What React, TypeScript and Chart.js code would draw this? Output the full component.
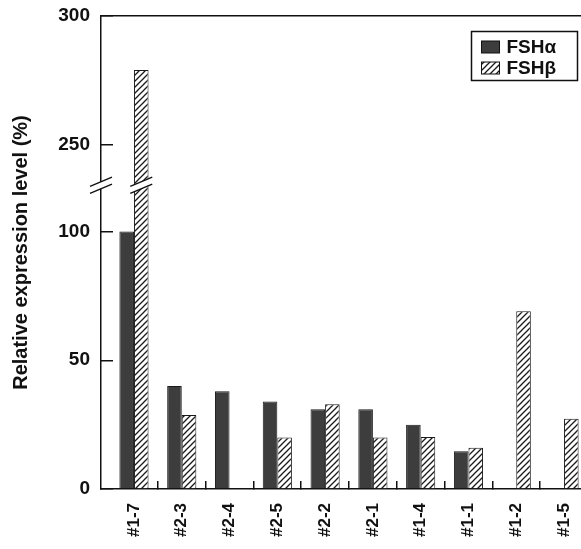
import React, { useEffect, useRef } from 'react';
import { Chart, registerables } from 'chart.js';

Chart.register(...registerables);

const categories = ['#1-7', '#2-3', '#2-4', '#2-5', '#2-2', '#2-1', '#1-4', '#1-1', '#1-2', '#1-5'];
const fshAlpha: (number | null)[] = [100, 40, 38, 34, 31, 31, 25, 14.7, null, null];
const fshBeta: (number | null)[] = [279, 28.7, null, 20, 32.9, 20, 20.2, 16, 69, 27.3];
const yTickValues = [0, 50, 100, 250, 300];
const seriesLabels = ['FSHα', 'FSHβ'];

// broken axis: values above the break are shifted down
const BREAK_AT = 118;
const BREAK_SHIFT = 116.3;
const toAxis = (v: number | null) => (v == null ? null : v > BREAK_AT ? v - BREAK_SHIFT : v);

const FONT = "'Liberation Sans', Arial, Helvetica, sans-serif";

function makeHatch(): CanvasPattern | string {
  const s = 6;
  const c = document.createElement('canvas');
  c.width = s;
  c.height = s;
  const g = c.getContext('2d');
  if (!g) return '#fff';
  g.fillStyle = '#ffffff';
  g.fillRect(0, 0, s, s);
  g.strokeStyle = '#1a1a1a';
  g.lineWidth = 1.3;
  g.beginPath();
  g.moveTo(-1, s + 1);
  g.lineTo(s + 1, -1);
  g.moveTo(-1, 1);
  g.lineTo(1, -1);
  g.moveTo(s - 1, s + 1);
  g.lineTo(s + 1, s - 1);
  g.stroke();
  return g.createPattern(c, 'repeat') || '#fff';
}

const breakPlugin = {
  id: 'breakMarks',
  afterDatasetsDraw(chart: any) {
    const ctx = chart.ctx as CanvasRenderingContext2D;
    const y = chart.scales.y.getPixelForValue(BREAK_AT);
    const draw = (cx: number, halfW: number) => {
      const slope = 0.42;
      const gap = 7;
      const dy = halfW * slope;
      ctx.save();
      ctx.fillStyle = '#ffffff';
      ctx.beginPath();
      ctx.moveTo(cx - halfW, y - gap / 2 + dy);
      ctx.lineTo(cx + halfW, y - gap / 2 - dy);
      ctx.lineTo(cx + halfW, y + gap / 2 - dy);
      ctx.lineTo(cx - halfW, y + gap / 2 + dy);
      ctx.closePath();
      ctx.fill();
      ctx.strokeStyle = '#111';
      ctx.lineWidth = 1.4;
      ctx.beginPath();
      ctx.moveTo(cx - halfW, y - gap / 2 + dy);
      ctx.lineTo(cx + halfW, y - gap / 2 - dy);
      ctx.moveTo(cx - halfW, y + gap / 2 + dy);
      ctx.lineTo(cx + halfW, y + gap / 2 - dy);
      ctx.stroke();
      ctx.restore();
    };
    draw(chart.chartArea.left, 11);
    const bar = chart.getDatasetMeta(1).data[0];
    if (bar) draw(bar.x, 11);
  },
};

const legendPlugin = {
  id: 'boxLegend',
  afterDraw(chart: any) {
    const ctx = chart.ctx as CanvasRenderingContext2D;
    const left = chart.width - 109.5;
    const top = 31.5;
    const w = 106;
    const h = 49;
    ctx.save();
    ctx.fillStyle = '#fff';
    ctx.fillRect(left, top, w, h);
    ctx.strokeStyle = '#111';
    ctx.lineWidth = 1.5;
    ctx.strokeRect(left, top, w, h);
    chart.data.datasets.forEach((ds: any, i: number) => {
      const cy = top + 15.5 + i * 21;
      ctx.fillStyle = ds.backgroundColor;
      ctx.fillRect(left + 10, cy - 6, 18, 12);
      ctx.strokeStyle = '#111';
      ctx.lineWidth = 1;
      ctx.strokeRect(left + 10, cy - 6, 18, 12);
      ctx.fillStyle = '#111';
      ctx.font = `bold 19px ${FONT}`;
      ctx.textBaseline = 'middle';
      ctx.textAlign = 'left';
      ctx.fillText(ds.label, left + 35, cy + 1);
    });
    ctx.restore();
  },
};

export default function App() {
  const ref = useRef<HTMLCanvasElement | null>(null);

  useEffect(() => {
    if (!ref.current) return;
    const hatch = makeHatch();
    const chart = new Chart(ref.current, {
      type: 'bar',
      data: {
        datasets: [
          {
            label: seriesLabels[0],
            data: categories.map((_, i) => ({ x: i, y: toAxis(fshAlpha[i]) })) as any,
            backgroundColor: '#3d3d3d',
            borderColor: '#1a1a1a',
            borderWidth: 1,
          },
          {
            label: seriesLabels[1],
            data: categories.map((_, i) => ({ x: i, y: toAxis(fshBeta[i]) })) as any,
            backgroundColor: hatch as any,
            borderColor: '#1a1a1a',
            borderWidth: 1,
          },
        ],
      },
      options: {
        responsive: false,
        animation: false,
        layout: { padding: 0 },
        datasets: { bar: { barPercentage: 1, categoryPercentage: 0.61, grouped: true } },
        plugins: { legend: { display: false }, tooltip: { enabled: false } },
        scales: {
          x: {
            type: 'linear',
            position: 'bottom',
            min: -0.69,
            max: 9.355,
            offset: false,
            afterBuildTicks: (s: any) => {
              s.ticks = categories.map((_, i) => ({ value: i }));
            },
            afterFit: (s: any) => {
              s.height = 60;
              s.paddingLeft = 0;
              s.paddingRight = 0;
            },
            ticks: {
              callback: (_v: any, i: number) => categories[i],
              minRotation: 90,
              maxRotation: 90,
              autoSkip: false,
              color: '#111',
              font: { family: FONT, size: 17, weight: 'bold' },
              padding: 22,
            },
            grid: {
              offset: true,
              drawOnChartArea: false,
              tickLength: -8,
              color: (c: any) => (c.index === 0 ? 'rgba(0,0,0,0)' : '#111'),
              tickColor: (c: any) => (c.index === 0 ? 'rgba(0,0,0,0)' : '#111'),
              lineWidth: 1.5,
              tickWidth: 1.5,
            },
            border: { display: true, color: '#111', width: 1.5 },
          },
          x2: {
            type: 'linear',
            position: 'top',
            min: 0,
            max: 1,
            afterFit: (s: any) => {
              s.height = 16;
              s.paddingLeft = 0;
              s.paddingRight = 0;
            },
            ticks: { display: false },
            grid: { display: false, drawTicks: false },
            border: { display: true, color: '#111', width: 1.5 },
          },
          y: {
            type: 'linear',
            min: 0,
            max: toAxis(300) as number,
            afterBuildTicks: (s: any) => {
              s.ticks = yTickValues.map((v) => ({ value: toAxis(v) }));
            },
            afterFit: (s: any) => {
              s.width = 101;
              s.paddingTop = 0;
              s.paddingBottom = 0;
            },
            ticks: {
              callback: (_v: any, i: number) => String(yTickValues[i]),
              color: '#111',
              font: { family: FONT, size: 19, weight: 'bold' },
              padding: 23,
            },
            grid: {
              drawOnChartArea: false,
              tickLength: -12,
              color: '#111',
              lineWidth: 1.5,
            },
            border: { display: true, color: '#111', width: 1.5 },
            title: {
              display: true,
              text: 'Relative expression level (%)',
              color: '#111',
              font: { family: FONT, size: 20, weight: 'bold' },
              padding: { top: 9, bottom: 0 },
            },
          },
        },
      } as any,
      plugins: [breakPlugin, legendPlugin],
    });
    return () => chart.destroy();
  }, []);

  return (
    <div style={{ position: 'fixed', left: 0, top: 0, width: 581, height: 549, overflow: 'hidden', background: '#fff' }}>
      <canvas ref={ref} width={581} height={549} style={{ display: 'block' }} />
    </div>
  );
}
